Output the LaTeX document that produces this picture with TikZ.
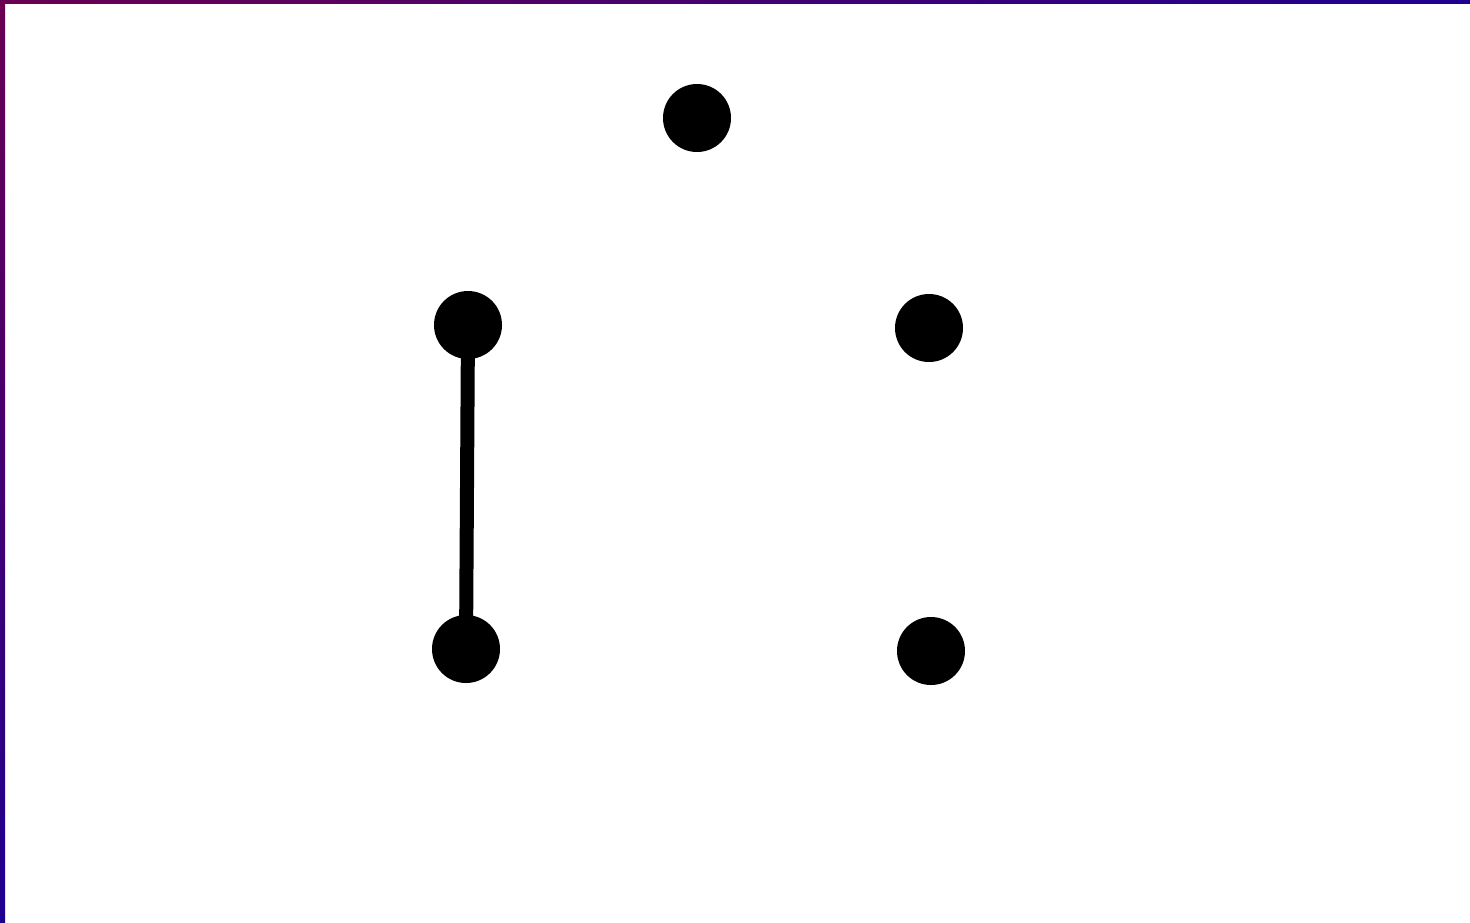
\documentclass[tikz,border=0pt]{standalone}
\begin{document}
\begin{tikzpicture}[x=1pt,y=-1pt,
  dot/.style={circle,fill=black,inner sep=0pt,minimum size=68pt},
  edge/.style={line width=14pt}]
\definecolor{bpurple}{HTML}{6A0052}
\definecolor{bblue}{HTML}{1E0090}
\useasboundingbox (0,0) rectangle (1470,922);
\fill[white] (0,0) rectangle (1470,922);
\shade[left color=bpurple,right color=bblue] (0,0) rectangle (1470,3);
\shade[top color=bpurple,bottom color=bblue] (0,0) rectangle (5,922);
\node[dot] (a) at (697,118) {};
\node[dot] (b) at (468,325) {};
\node[dot] (c) at (929,328) {};
\node[dot] (d) at (466,649) {};
\node[dot] (e) at (931,651) {};
\begin{scope}[on background layer/.style={}]
\draw[edge] (b.center) -- (d.center);
\end{scope}
\end{tikzpicture}
\end{document}
